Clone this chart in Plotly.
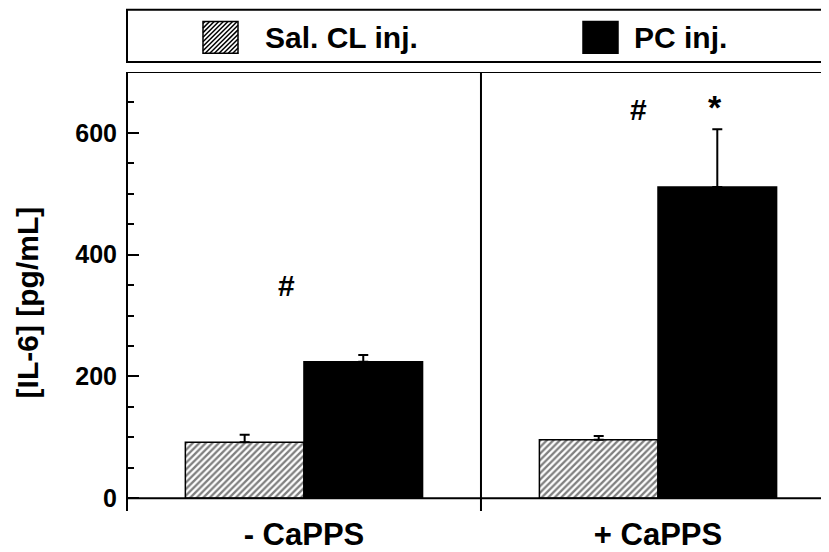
import plotly.graph_objects as go

# ---- data ----
categories = ["- CaPPS", "+ CaPPS"]
cat_pos = [0, 1]
sal_values = [92, 96]
sal_err = [12, 6]
pc_values = [224, 511]
pc_err = [11, 95]
series_names = ["Sal. CL inj.", "PC inj."]
y_ticks = [0, 200, 400, 600]
sig_marks = [("#", -0.048, 350, 30), ("#", 0.946, 639, 30), ("*", 1.161, 642, 34)]

FONT = "Liberation Sans"

# page is shown with an 8px body margin; layout below is designed in screen pixels
L, T, PW, PH = 120, 64, 701, 444
def sx(px):  # screen x -> paper x
    return (px - 128) / PW
def sy(py):  # screen y -> paper y
    return (516 - py) / PH

fig = go.Figure()
fig.add_trace(go.Bar(
    x=cat_pos, y=sal_values, name=series_names[0],
    marker=dict(color="white", line=dict(color="black", width=1.5),
                pattern=dict(shape="/", fgcolor="black", bgcolor="white", size=4.6, solidity=0.5)),
    error_y=dict(type="data", symmetric=False, array=sal_err, arrayminus=[0, 0],
                 color="black", thickness=2, width=5),
    showlegend=False,
))
fig.add_trace(go.Bar(
    x=cat_pos, y=pc_values, name=series_names[1],
    marker=dict(color="black", line=dict(color="black", width=1.5)),
    error_y=dict(type="data", symmetric=False, array=pc_err, arrayminus=[0, 0],
                 color="black", thickness=2, width=5),
    showlegend=False,
))

shapes = [
    dict(type="line", xref="paper", yref="y", x0=0, x1=1, y0=0, y1=0,
         line=dict(color="black", width=2)),
    dict(type="line", xref="paper", yref="y", x0=sx(127), x1=1, y0=700, y1=700,
         line=dict(color="black", width=2)),
    dict(type="line", xref="x", yref="paper", x0=0.5, x1=0.5, y0=0, y1=1,
         line=dict(color="black", width=2)),
    dict(type="rect", xref="paper", yref="paper", x0=sx(127), x1=sx(840), y0=sy(62), y1=sy(9),
         line=dict(color="black", width=2), fillcolor="white"),
]

# legend swatches
sq_y0, sq_y1 = 21, 53
hat_x0, hat_x1 = 203, 238
blk_x0, blk_x1 = 583, 618
# hatching lines inside the hatched swatch ("/" direction)
k = hat_x0 + sq_y0 + 2
while k < hat_x1 + sq_y1:
    xa = max(hat_x0, k - sq_y1)
    xb = min(hat_x1, k - sq_y0)
    if xb > xa:
        shapes.append(dict(type="line", xref="paper", yref="paper",
                           x0=sx(xa), y0=sy(k - xa), x1=sx(xb), y1=sy(k - xb),
                           line=dict(color="black", width=1.5)))
    k += 4.6
shapes.append(dict(type="rect", xref="paper", yref="paper", x0=sx(hat_x0), x1=sx(hat_x1),
                   y0=sy(sq_y1), y1=sy(sq_y0), line=dict(color="black", width=1.5)))
shapes.append(dict(type="rect", xref="paper", yref="paper", x0=sx(blk_x0), x1=sx(blk_x1),
                   y0=sy(sq_y1), y1=sy(sq_y0), line=dict(color="black", width=1.5),
                   fillcolor="black"))

annotations = [
    dict(text="<b>" + series_names[0] + "</b>", xref="paper", yref="paper",
         x=sx(263), y=sy(37), xanchor="left", yanchor="middle",
         showarrow=False, font=dict(family=FONT, size=30, color="black")),
    dict(text="<b>" + series_names[1] + "</b>", xref="paper", yref="paper",
         x=sx(632), y=sy(37), xanchor="left", yanchor="middle",
         showarrow=False, font=dict(family=FONT, size=30, color="black")),
    dict(text="<b>[IL-6] [pg/mL]</b>", xref="paper", yref="paper",
         x=sx(27), y=sy(305), xanchor="center", yanchor="middle", textangle=-90,
         showarrow=False, font=dict(family=FONT, size=30, color="black")),
]
for txt, xv, yv, fs in sig_marks:
    annotations.append(dict(text="<b>" + txt + "</b>", x=xv, y=yv, xref="x", yref="y",
                            showarrow=False, font=dict(family=FONT, size=fs, color="black")))

fig.update_layout(
    width=821, height=544,
    margin=dict(l=L, r=0, t=T, b=544 - T - PH),
    paper_bgcolor="white", plot_bgcolor="white",
    barmode="group", bargap=0.33, bargroupgap=0,
    shapes=shapes, annotations=annotations,
    font=dict(family=FONT, color="black"),
)
fig.update_xaxes(
    range=[-0.497, 1.483], tickvals=cat_pos,
    ticktext=["<b>" + c + "</b>" for c in categories],
    tickfont=dict(family=FONT, size=31), ticks="", showline=False,
    showgrid=False, zeroline=False, ticklabelstandoff=2,
)
fig.update_yaxes(
    range=[-21.1, 700], tickvals=y_ticks,
    ticktext=["<b>%d</b>" % v for v in y_ticks],
    tickfont=dict(family=FONT, size=25),
    ticks="inside", ticklen=11, tickwidth=2, tickcolor="black",
    minor=dict(ticks="inside", ticklen=6, tickwidth=1.5, dtick=50, tick0=0,
               tickcolor="black", showgrid=False),
    showline=True, linewidth=2, linecolor="black",
    showgrid=False, zeroline=False, ticklabelstandoff=4,
)

fig.write_html("out.html")
